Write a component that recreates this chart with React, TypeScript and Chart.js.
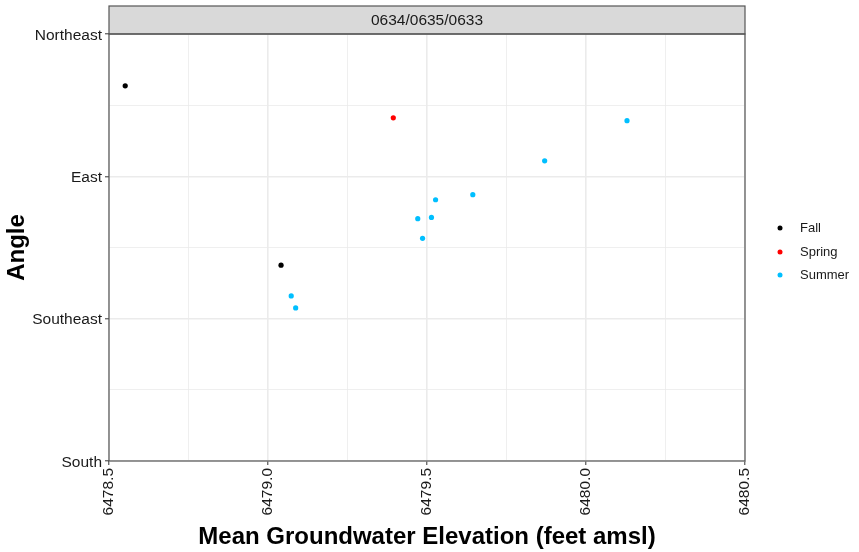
import React, { useEffect, useRef } from "react";
import { Chart, registerables } from "chart.js";

Chart.register(...registerables);

const stripLabel = "0634/0635/0633";
const xTitle = "Mean Groundwater Elevation (feet amsl)";
const yTitle = "Angle";
const seriesNames = ["Fall", "Spring", "Summer"];
const seriesColors = ["#000000", "#ff0000", "#00bfff"];

const fallX = [6478.551, 6479.041];
const fallY = [61.4, 118.1];
const springX = [6479.394];
const springY = [71.5];
const summerX = [6479.073, 6479.087, 6479.471, 6479.486, 6479.514, 6479.527, 6479.644, 6479.870, 6480.129];
const summerY = [127.8, 131.6, 103.4, 109.6, 103.0, 97.4, 95.8, 85.1, 72.4];

const yTickValues = [45, 90, 135, 180];
const yTickLabels = ["Northeast", "East", "Southeast", "South"];
const xMin = 6478.5;
const xMax = 6480.5;

const toPts = (xs: number[], ys: number[]) => xs.map((x, i) => ({ x, y: ys[i] }));

const TEXT = "#1a1a1a";
const FONT = "'Liberation Sans', Arial, Helvetica, sans-serif";

const decorPlugin = {
  id: "decor",
  afterDraw(chart: any) {
    const { ctx, chartArea } = chart;
    const { left, right, top, bottom } = chartArea;
    ctx.save();
    // strip
    ctx.fillStyle = "#d9d9d9";
    ctx.fillRect(left, 6, right - left, top - 6);
    ctx.strokeStyle = "#555555";
    ctx.lineWidth = 1.2;
    ctx.strokeRect(left, 6, right - left, top - 6);
    ctx.fillStyle = TEXT;
    ctx.font = `15.5px ${FONT}`;
    ctx.textAlign = "center";
    ctx.textBaseline = "middle";
    ctx.fillText(stripLabel, (left + right) / 2, 21);
    // panel border
    ctx.strokeRect(left, top, right - left, bottom - top);
    // axis titles
    ctx.font = `bold 24px ${FONT}`;
    ctx.fillStyle = "#000";
    ctx.fillText(xTitle, (left + right) / 2, 537);
    ctx.save();
    ctx.translate(17, (top + bottom) / 2);
    ctx.rotate(-Math.PI / 2);
    ctx.fillText(yTitle, 0, 0);
    ctx.restore();
    // legend
    const ly = [228, 252, 275];
    ctx.font = `13px ${FONT}`;
    ctx.textAlign = "left";
    seriesNames.forEach((n, i) => {
      ctx.fillStyle = seriesColors[i];
      ctx.beginPath();
      ctx.arc(780, ly[i], 2.5, 0, Math.PI * 2);
      ctx.fill();
      ctx.fillStyle = TEXT;
      ctx.fillText(n, 800, ly[i]);
    });
    ctx.restore();
  },
};

const isMajorX = (v: number) => Math.abs(v * 2 - Math.round(v * 2)) < 1e-6;
const isMajorY = (v: number) => yTickValues.some((t) => Math.abs(t - v) < 1e-6);

export default function App() {
  const ref = useRef<HTMLCanvasElement | null>(null);
  useEffect(() => {
    document.body.style.margin = "0";
    if (!ref.current) return;
    const mk = (i: number, data: any[]) => ({
      label: seriesNames[i],
      data,
      backgroundColor: seriesColors[i],
      borderColor: seriesColors[i],
      borderWidth: 0,
      pointRadius: 2.6,
      pointHoverRadius: 2.6,
    });
    const chart = new Chart(ref.current, {
      type: "scatter",
      data: {
        datasets: [
          mk(0, toPts(fallX, fallY)),
          mk(1, toPts(springX, springY)),
          mk(2, toPts(summerX, summerY)),
        ],
      },
      options: {
        animation: false,
        responsive: false,
        maintainAspectRatio: false,
        layout: { padding: { left: 0, top: 34, right: 114, bottom: 0 } },
        plugins: { legend: { display: false }, tooltip: { enabled: false } },
        scales: {
          x: {
            type: "linear",
            min: xMin,
            max: xMax,
            border: { display: false },
            grid: {
              color: "#ebebeb",
              lineWidth: (c: any) => (isMajorX(c.tick.value) ? 1.6 : 0.8),
              drawTicks: true,
              tickLength: 4,
              tickColor: (c: any) => (isMajorX(c.tick.value) ? "#333333" : "rgba(0,0,0,0)"),
              tickWidth: 1,
            },
            ticks: {
              stepSize: 0.25,
              autoSkip: false,
              minRotation: 90,
              maxRotation: 90,
              padding: 3,
              color: TEXT,
              font: { size: 15.5, family: FONT },
              callback: (v: any) => (isMajorX(Number(v)) ? Number(v).toFixed(1) : ""),
            },
            afterFit: (s: any) => {
              s.height = 91;
            },
          },
          y: {
            type: "linear",
            reverse: true,
            min: 45,
            max: 180,
            border: { display: false },
            grid: {
              color: "#ebebeb",
              lineWidth: (c: any) => (isMajorY(c.tick.value) ? 1.6 : 0.8),
              drawTicks: true,
              tickLength: 4,
              tickColor: (c: any) => (isMajorY(c.tick.value) ? "#333333" : "rgba(0,0,0,0)"),
              tickWidth: 1,
            },
            ticks: {
              stepSize: 22.5,
              autoSkip: false,
              padding: 3,
              labelOffset: 1.5,
              color: TEXT,
              font: { size: 15.5, family: FONT },
              callback: (v: any) => {
                const idx = yTickValues.findIndex((t) => Math.abs(t - Number(v)) < 1e-6);
                return idx >= 0 ? yTickLabels[idx] : "";
              },
            },
            afterFit: (s: any) => {
              s.width = 109;
            },
          },
        },
      },
      plugins: [decorPlugin],
    } as any);
    return () => chart.destroy();
  }, []);
  return (
    <div style={{ width: 859, height: 552 }}>
      <canvas ref={ref} width={859} height={552} style={{ width: 859, height: 552, display: "block" }} />
    </div>
  );
}
